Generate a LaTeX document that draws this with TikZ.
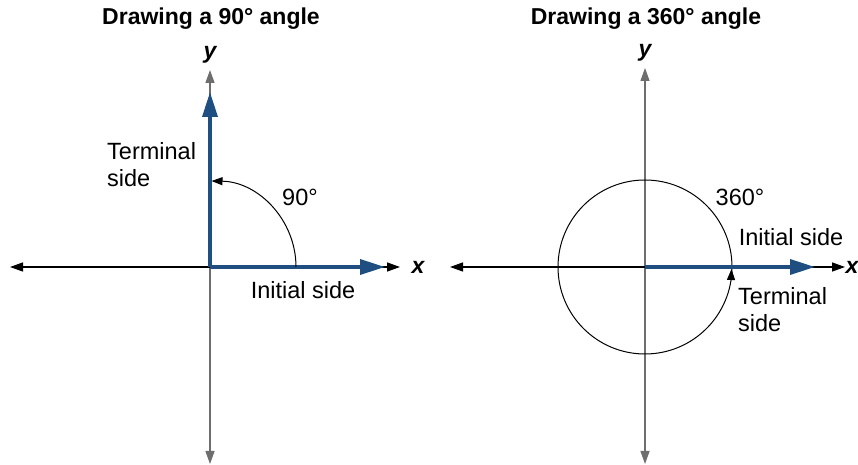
\documentclass[tikz,border=0pt]{standalone}
\usepackage{fontspec}
\setmainfont{Liberation Sans}
\usetikzlibrary{arrows.meta}
\definecolor{sideblue}{RGB}{31,78,128}
\definecolor{axisgray}{RGB}{110,110,110}
\tikzset{
  axisline/.style={line width=1.3pt, draw=axisgray, -{Triangle[length=13pt,width=9pt]}},
  axislineb/.style={line width=1.3pt, draw=black, {Triangle[length=13pt,width=9pt]}-{Triangle[length=13pt,width=9pt]}},
  sideline/.style={line width=3.5pt, draw=sideblue, -{Triangle[length=25pt,width=15pt]}},
  anglearc/.style={line width=1pt, draw=black, -{Triangle[length=11pt,width=8pt]}},
  lbl/.style={font=\fontsize{23.5}{27}\selectfont, inner sep=0pt},
  ttl/.style={font=\bfseries\fontsize{23}{26}\selectfont, inner sep=0pt},
  axlbl/.style={font=\itshape\bfseries\fontsize{23}{26}\selectfont, inner sep=0pt},
}
\begin{document}
\begin{tikzpicture}[x=1pt,y=1pt]
\useasboundingbox (0,0) rectangle (858,465);
% ---------- left: 90 degrees ----------
\coordinate (O1) at (210,198);
\coordinate (L1) at (10,198);
\coordinate (R1) at (400,198);
\coordinate (T1) at (210,395);
\coordinate (B1) at (210,1);
\draw[axisline] (O1) -- (T1);
\draw[axisline] (O1) -- (B1);
\draw[axislineb] (L1) -- (R1);
\coordinate (BU1) at (210,373);
\coordinate (BR1) at (385,198);
\draw[sideline] (O1) -- (BU1);
\draw[sideline] (O1) -- (BR1);
\draw[line width=3.5pt, draw=sideblue] (210,198) -- (213,198);
\coordinate (A1) at (296,198);
\draw[anglearc] (A1) arc[start angle=0, end angle=89, radius=86];
\node[ttl] (title1) at (211,446) {Drawing a 90\textdegree\ angle};
\node[axlbl] (ylab1) at (210,410) {y};
\node[axlbl] (xlab1) at (418,198) {x};
\node[lbl] (ninety) at (300,268) {90\textdegree};
\node[lbl, align=left, anchor=north west] (term1) at (107,323) {Terminal\\side};
\node[lbl] (init1) at (303,175) {Initial side};
% ---------- right: 360 degrees ----------
\coordinate (O2) at (645,198);
\coordinate (L2) at (450,198);
\coordinate (R2) at (845,198);
\coordinate (T2) at (645,397);
\coordinate (B2) at (645,1);
\draw[axisline] (O2) -- (T2);
\draw[axisline] (O2) -- (B2);
\draw[axislineb] (L2) -- (R2);
\coordinate (A2) at (732,198);
\draw[line width=1pt] (A2) arc[start angle=0, end angle=360, radius=87];
\coordinate (BR2) at (815,198);
\draw[sideline] (O2) -- (BR2);
\coordinate (A2s) at (731,185);
\draw[anglearc] (A2s) -- (731.5,196);
\node[ttl] (title2) at (646,446) {Drawing a 360\textdegree\ angle};
\node[axlbl] (ylab2) at (645,412) {y};
\node[axlbl] (xlab2) at (852,198) {x};
\node[lbl] (deg360) at (740,268) {360\textdegree};
\node[lbl] (init2) at (791,228) {Initial side};
\node[lbl, align=left, anchor=north west] (term2) at (738,178) {Terminal\\side};
\end{tikzpicture}
\end{document}
